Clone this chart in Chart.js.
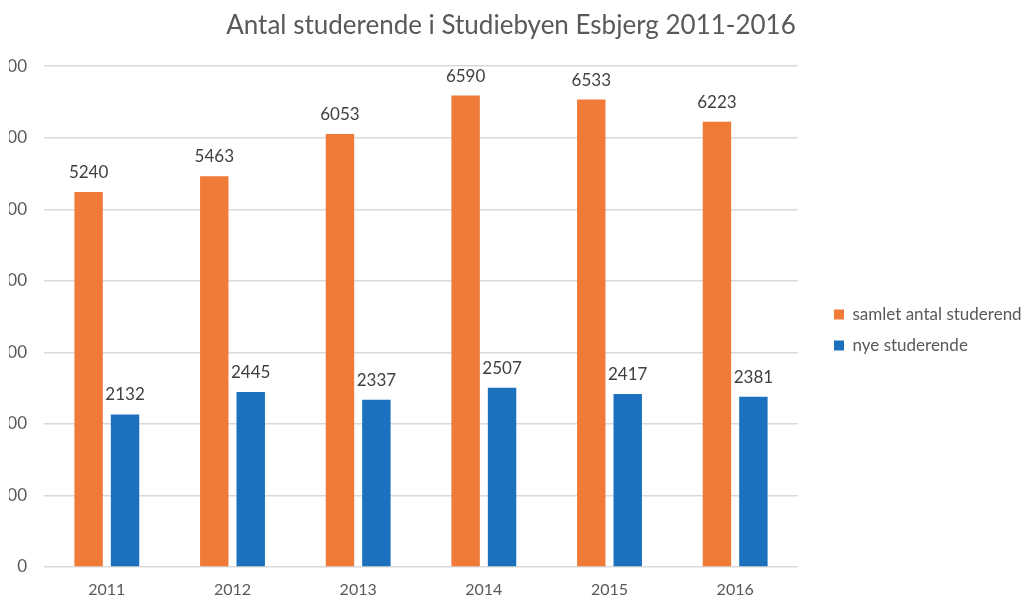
<!DOCTYPE html>
<html>
<head>
<meta charset="utf-8">
<script src="https://cdn.jsdelivr.net/npm/chart.js@4.4.1/dist/chart.umd.min.js"></script>
<style>
  html, body { margin: 0; padding: 0; background: #fff; overflow: hidden; }
  #wrap { position: relative; width: 1022px; height: 608px; }
  /* the source picture is cut a little on the left, over the y labels */
  canvas { display: block; clip-path: inset(0 0 0 9px); }
</style>
</head>
<body>
<div id="wrap"><canvas id="studChart" width="1022" height="608"></canvas></div>
<script>
// data
const years = ['2011', '2012', '2013', '2014', '2015', '2016'];
const samletAntal = [5240, 5463, 6053, 6590, 6533, 6223];
const nyeStuderende = [2132, 2445, 2337, 2507, 2417, 2381];
const seriesNames = ['samlet antal studerende', 'nye studerende'];
const yMax = 7000;
const yStep = 1000;

const FONT = 'Lato, "Liberation Sans", sans-serif';
const LEGEND_W = 224;   // keeps plot right edge at ~798
const LEGEND_DX = 22;   // legend sits a bit right of the plot
const LEGEND_DY = 26;

// value labels above each bar
const barLabels = {
  id: 'barLabels',
  afterDatasetsDraw(chart) {
    const ctx = chart.ctx;
    ctx.save();
    ctx.font = '17px ' + FONT;
    ctx.fillStyle = '#404040';
    ctx.textAlign = 'center';
    ctx.textBaseline = 'alphabetic';
    chart.data.datasets.forEach((ds, i) => {
      chart.getDatasetMeta(i).data.forEach((bar, j) => {
        ctx.fillText(String(ds.data[j]), bar.x, bar.y - 14);
      });
    });
    ctx.restore();
  }
};

// fixed legend width + small offset, like the Excel layout
const legendPlace = {
  id: 'legendPlace',
  beforeLayout(chart) {
    const lg = chart.legend;
    if (lg && !lg._fixedFit) {
      const fit = lg.fit;
      lg.fit = function () { fit.call(this); this.width = LEGEND_W; };
      lg._fixedFit = true;
    }
  },
  afterLayout(chart) {
    const lg = chart.legend;
    if (!lg) return;
    lg.left += LEGEND_DX; lg.right += LEGEND_DX;
    lg.top += LEGEND_DY; lg.bottom += LEGEND_DY;
  }
};

const ctx = document.getElementById('studChart').getContext('2d');
new Chart(ctx, {
  type: 'bar',
  data: {
    labels: years,
    datasets: [
      {
        label: seriesNames[0],
        data: samletAntal,
        backgroundColor: '#F07A37',
        categoryPercentage: 0.58,
        barPercentage: 0.78
      },
      {
        label: seriesNames[1],
        data: nyeStuderende,
        backgroundColor: '#1B71BD',
        categoryPercentage: 0.58,
        barPercentage: 0.78
      }
    ]
  },
  options: {
    responsive: false,
    animation: false,
    devicePixelRatio: 1,
    layout: { padding: 0 },
    scales: {
      x: {
        grid: { display: false, drawTicks: false },
        border: { display: false },
        ticks: { color: '#595959', font: { family: FONT, size: 16 }, padding: 13, maxRotation: 0 },
        afterFit(scale) { scale.height = 41; }
      },
      y: {
        min: 0,
        max: yMax,
        ticks: {
          stepSize: yStep,
          color: '#595959',
          font: { family: FONT, size: 17 },
          padding: 17
        },
        grid: { color: '#D9D9D9', lineWidth: 1.5, drawTicks: false },
        border: { display: false },
        afterFit(scale) { scale.width = 44; }
      }
    },
    plugins: {
      title: {
        display: true,
        text: 'Antal studerende i Studiebyen Esbjerg 2011-2016',
        color: '#595959',
        font: { family: FONT, size: 26, weight: 'normal' },
        padding: { top: 10, bottom: 25 }
      },
      legend: {
        position: 'right',
        labels: {
          boxWidth: 10,
          boxHeight: 10,
          padding: 14,
          color: '#595959',
          font: { family: FONT, size: 17 }
        }
      },
      tooltip: { enabled: false }
    }
  },
  plugins: [barLabels, legendPlace]
});
</script>
</body>
</html>
